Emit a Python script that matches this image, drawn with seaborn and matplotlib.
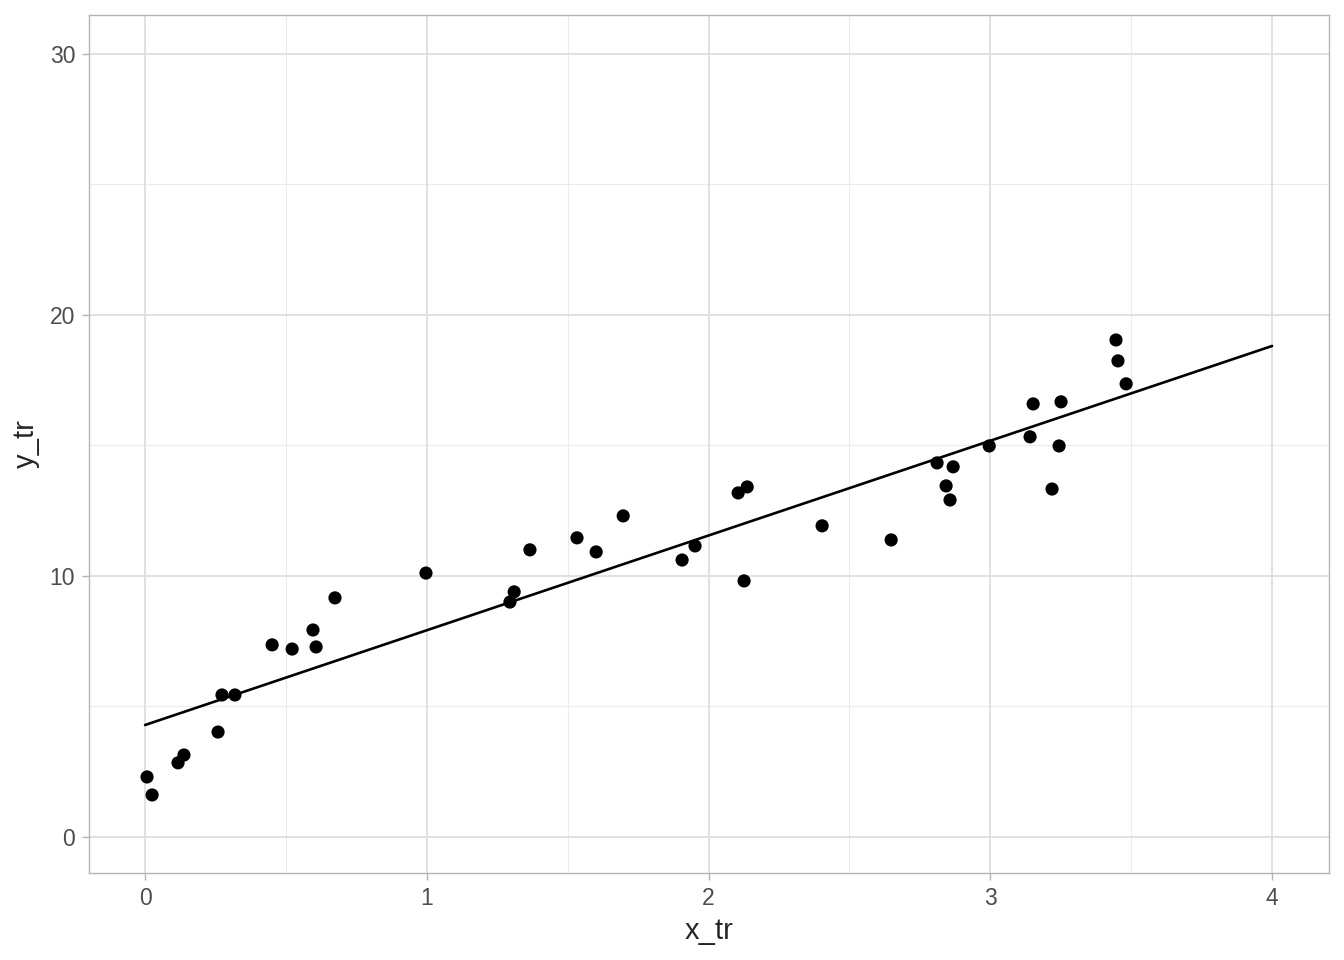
import seaborn as sns
import matplotlib.pyplot as plt
import pandas as pd

# Points
x_tr = [0.007, 0.025, 0.117, 0.138, 0.259, 0.273, 0.319, 0.451, 0.522, 0.596,
        0.607, 0.674, 0.997, 1.295, 1.310, 1.366, 1.533, 1.601, 1.697, 1.906,
        1.952, 2.105, 2.137, 2.126, 2.403, 2.648, 2.811, 2.843, 2.857, 2.868,
        2.996, 3.141, 3.152, 3.219, 3.244, 3.251, 3.446, 3.453, 3.482]
y_tr = [2.30, 1.61, 2.84, 3.14, 4.02, 5.44, 5.44, 7.36, 7.20, 7.93,
        7.28, 9.16, 10.11, 9.00, 9.39, 11.00, 11.46, 10.92, 12.30, 10.61,
        11.15, 13.18, 13.41, 9.81, 11.92, 11.38, 14.33, 13.45, 12.91, 14.18,
        14.98, 15.33, 16.59, 13.33, 14.98, 16.67, 19.04, 18.24, 17.36]

# Fitted line endpoints
line_x = [0, 4]
line_y = [4.29, 18.81]

df = pd.DataFrame({'x_tr': x_tr, 'y_tr': y_tr})
line_df = pd.DataFrame({'x': line_x, 'y': line_y})

sns.set_style('white')
plt.rcParams['font.family'] = ['Liberation Sans', 'DejaVu Sans']

fig = plt.figure(figsize=(13.44, 9.6), dpi=100)
ax = fig.add_axes([89 / 1344, 87 / 960, 1240 / 1344, 858 / 960])

# grid (ggplot theme_light look)
for v in [0.5, 1.5, 2.5, 3.5]:
    ax.axvline(v, color='#EBEBEB', lw=0.8, zorder=0)
for v in [5, 15, 25]:
    ax.axhline(v, color='#EBEBEB', lw=0.8, zorder=0)
for v in [0, 1, 2, 3, 4]:
    ax.axvline(v, color='#DEDEDE', lw=1.3, zorder=0)
for v in [0, 10, 20, 30]:
    ax.axhline(v, color='#DEDEDE', lw=1.3, zorder=0)

sns.scatterplot(data=df, x='x_tr', y='y_tr', color='black', s=90,
                edgecolor='none', ax=ax, zorder=3)
sns.lineplot(data=line_df, x='x', y='y', color='black', lw=1.9, ax=ax, zorder=2)

ax.set_xlim(-0.199, 4.202)
ax.set_ylim(-1.38, 31.49)
ax.set_xticks([0, 1, 2, 3, 4])
ax.set_yticks([0, 10, 20, 30])
ax.tick_params(axis='both', bottom=True, left=True, length=5, width=1.0,
               color='#B3B3B3', labelsize=16.5, labelcolor='#4D4D4D', pad=5)
for sp in ax.spines.values():
    sp.set_color('#B3B3B3')
    sp.set_linewidth(1.0)

ax.set_xlabel('x_tr', fontsize=21, labelpad=5)
ax.set_ylabel('y_tr', fontsize=21, labelpad=7)

plt.savefig('out.png', dpi=100)
plt.close()
